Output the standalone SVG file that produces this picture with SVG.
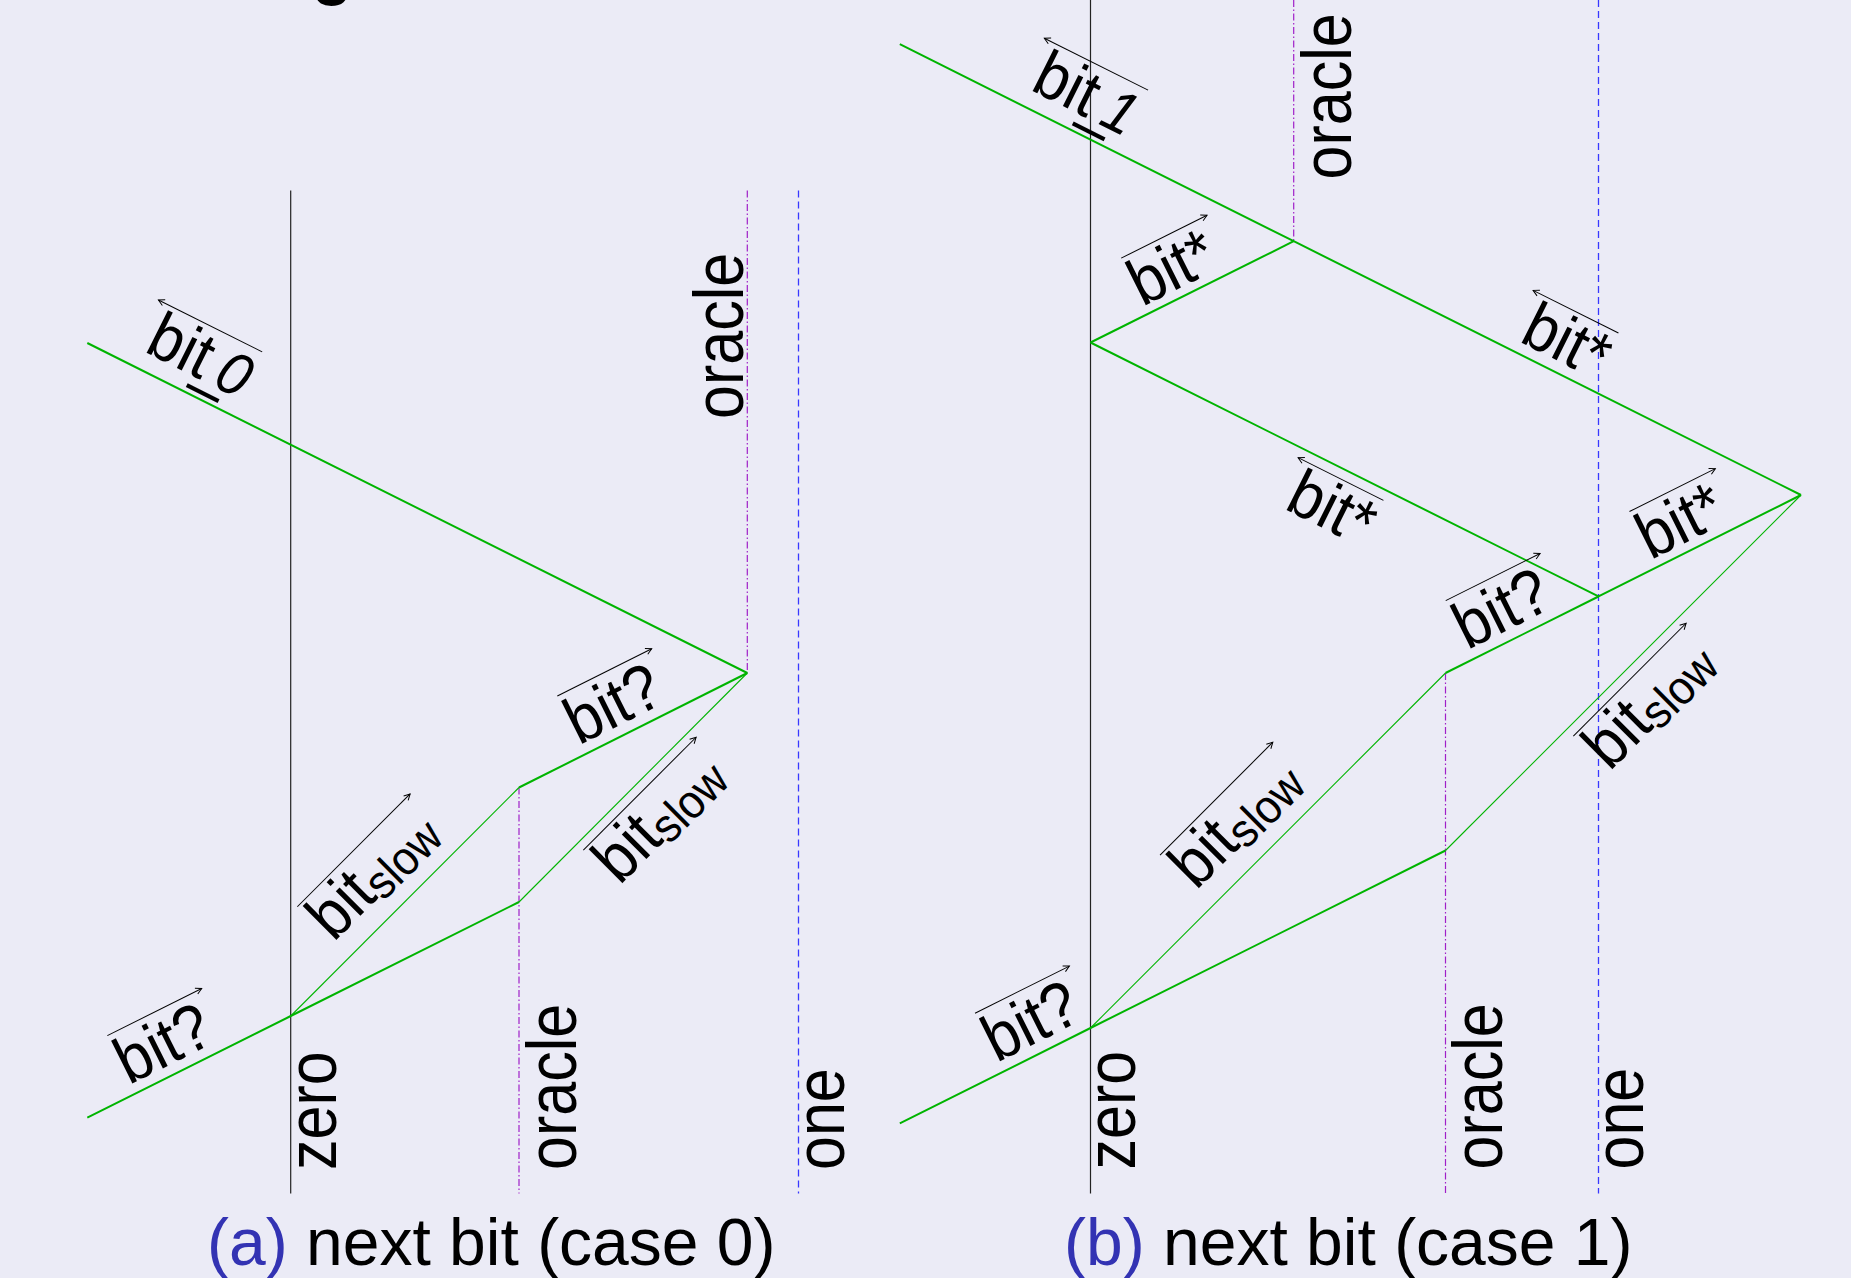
<svg xmlns="http://www.w3.org/2000/svg" width="1851" height="1278" viewBox="0 0 1851 1278">
<style>
.bg{fill:#ebebf6}
.g{stroke:#00b400;fill:none;stroke-width:2}
.gt{stroke:#00b400;fill:none;stroke-width:1.1}
.zero{stroke:#222;stroke-width:1.2}
.orc{stroke:#a020c8;stroke-width:1.2;stroke-dasharray:7 2.5 1.5 2.5}
.one{stroke:#3838ff;stroke-width:1.3;stroke-dasharray:7 4}
.lbl{font-family:"Liberation Sans",Arial,Helvetica,sans-serif;font-size:61px;fill:#000}
.sub{font-size:44px}
.it{font-style:italic}
.arr{stroke:#000;stroke-width:1;fill:none;marker-end:url(#ah)}
.vl{font-family:"Liberation Sans",Arial,Helvetica,sans-serif;font-size:61px;fill:#000}
.cap{font-family:"Liberation Sans",Arial,Helvetica,sans-serif;font-size:66px;fill:#000}
.capl{fill:#3333b3}
</style>
<defs>
<marker id="ah" markerUnits="userSpaceOnUse" viewBox="-8 -6 10 12" markerWidth="10" markerHeight="12" refX="0" refY="0" orient="auto" overflow="visible">
<path d="M-6,-3.2 L0,0 L-6,3.2" fill="none" stroke="#000" stroke-width="1"/>
</marker>
</defs>
<rect class="bg" x="0" y="0" width="1851" height="1278"/>
<text class="cap" x="312" y="-8" font-weight="bold">g</text>

<!-- Panel (a) -->
<g id="panel-a">
<g id="a-zero">
<line class="zero" x1="290.7" y1="190.6" x2="290.7" y2="1193.4"/>
<text class="vl" transform="translate(335.5,1170) scale(1.15,1) rotate(-90)">zero</text>
</g>
<g id="a-oracle-low">
<line class="orc" x1="519" y1="787.5" x2="519" y2="1193.4"/>
<text class="vl" transform="translate(575.5,1170) scale(1.15,1) rotate(-90)">oracle</text>
</g>
<g id="a-oracle-top">
<line class="orc" x1="747.3" y1="190.6" x2="747.3" y2="673"/>
<text class="vl" transform="translate(743,419) scale(1.15,1) rotate(-90)">oracle</text>
</g>
<g id="a-one">
<line class="one" x1="798.5" y1="190.6" x2="798.5" y2="1193.4"/>
<text class="vl" transform="translate(844,1170) scale(1.15,1) rotate(-90)">one</text>
</g>
<g id="a-connectors">
<polyline class="g" points="87.3,343 747.3,673"/>
<polyline class="g" points="87.3,1117.7 290.7,1016 519,902"/>
<polyline class="g" points="519,787.5 747.3,673"/>
<polyline class="gt" points="290.7,1016 519,787.5"/>
<polyline class="gt" points="519,902 747.3,673"/>
</g>
<g id="a-lbl-bit0" transform="translate(143,351) rotate(26.565)">
<text class="lbl" transform="scale(1,1.08)">bit<tspan dx="-9">_</tspan><tspan class="it" dx="-13" font-size="56">0</tspan></text>
<path class="arr" d="M107,-52.5 H-9"/>
</g>
<g id="a-lbl-bitq-low" transform="translate(128.8,1085.3) rotate(-26.565)">
<text class="lbl" transform="scale(1,1.08)">bit?</text>
<path class="arr" d="M3,-54 H108.5"/>
</g>
<g id="a-lbl-bitq-up" transform="translate(578.8,745.6) rotate(-26.565)">
<text class="lbl" transform="scale(1,1.08)">bit?</text>
<path class="arr" d="M3,-54 H108.5"/>
</g>
<g id="a-lbl-slow-left" transform="translate(333.4,942.8) rotate(-45)">
<text class="lbl" transform="scale(1,1.08)">bit<tspan class="sub" dy="6">slow</tspan></text>
<path class="arr" d="M0,-51 H159.5"/>
</g>
<g id="a-lbl-slow-right" transform="translate(619.4,886.1) rotate(-45)">
<text class="lbl" transform="scale(1,1.08)">bit<tspan class="sub" dy="6">slow</tspan></text>
<path class="arr" d="M0,-51 H159.5"/>
</g>
<text class="cap" x="207" y="1265"><tspan class="capl">(a)</tspan> next bit (case 0)</text>
</g>

<!-- Panel (b) -->
<g id="panel-b">
<g id="b-zero">
<line class="zero" x1="1090.5" y1="0" x2="1090.5" y2="1193.4"/>
<text class="vl" transform="translate(1135,1169.5) scale(1.15,1) rotate(-90)">zero</text>
</g>
<g id="b-oracle-top">
<line class="orc" x1="1293.7" y1="0" x2="1293.7" y2="241.2"/>
<text class="vl" transform="translate(1351,179.5) scale(1.15,1) rotate(-90)">oracle</text>
</g>
<g id="b-oracle-low">
<line class="orc" x1="1445.5" y1="673" x2="1445.5" y2="1193.4"/>
<text class="vl" transform="translate(1502,1169.5) scale(1.15,1) rotate(-90)">oracle</text>
</g>
<g id="b-one">
<line class="one" x1="1598.5" y1="0" x2="1598.5" y2="1193.4"/>
<text class="vl" transform="translate(1643,1169.5) scale(1.15,1) rotate(-90)">one</text>
</g>
<g id="b-connectors">
<polyline class="g" points="899.8,44.2 1293.7,241.2 1801,495"/>
<polyline class="g" points="1090.5,342.5 1293.7,241.2"/>
<polyline class="g" points="1090.5,342.5 1598.5,596.5 1801,495"/>
<polyline class="g" points="1445.5,673 1598.5,596.5"/>
<polyline class="g" points="899.8,1123.4 1090.5,1028 1445.5,850.5"/>
<polyline class="gt" points="1090.5,1028 1445.5,673"/>
<polyline class="gt" points="1445.5,850.5 1801,495"/>
</g>
<g id="b-lbl-bit1" transform="translate(1028.9,89.2) rotate(26.565)">
<text class="lbl" transform="scale(1,1.08)">bit<tspan dx="-9">_</tspan><tspan class="it" dx="-13" font-size="56">1</tspan></text>
<path class="arr" d="M107,-52.5 H-9"/>
</g>
<g id="b-lbl-bitstar-ul" transform="translate(1142.2,306.9) rotate(-26.565)">
<text class="lbl" transform="scale(1,1.08)">bit*</text>
<path class="arr" d="M3,-53 H99"/>
</g>
<g id="b-lbl-bitstar-ur" transform="translate(1517.9,340.9) rotate(26.565)">
<text class="lbl" transform="scale(1,1.08)">bit*</text>
<path class="arr" d="M86.4,-52 H-9"/>
</g>
<g id="b-lbl-bitstar-mid" transform="translate(1282.9,508.2) rotate(26.565)">
<text class="lbl" transform="scale(1,1.08)">bit*</text>
<path class="arr" d="M86.4,-52 H-9"/>
</g>
<g id="b-lbl-bitq" transform="translate(1467.2,650.3) rotate(-26.565)">
<text class="lbl" transform="scale(1,1.08)">bit?</text>
<path class="arr" d="M3,-54 H108.5"/>
</g>
<g id="b-lbl-bitstar-lr" transform="translate(1650.5,560.3) rotate(-26.565)">
<text class="lbl" transform="scale(1,1.08)">bit*</text>
<path class="arr" d="M3,-53 H99"/>
</g>
<g id="b-lbl-bitq-low" transform="translate(996.5,1062.9) rotate(-26.565)">
<text class="lbl" transform="scale(1,1.08)">bit?</text>
<path class="arr" d="M3,-54 H108.5"/>
</g>
<g id="b-lbl-slow-left" transform="translate(1196.1,891.1) rotate(-45)">
<text class="lbl" transform="scale(1,1.08)">bit<tspan class="sub" dy="6">slow</tspan></text>
<path class="arr" d="M0,-51 H159.5"/>
</g>
<g id="b-lbl-slow-right" transform="translate(1609.4,772.1) rotate(-45)">
<text class="lbl" transform="scale(1,1.08)">bit<tspan class="sub" dy="6">slow</tspan></text>
<path class="arr" d="M0,-51 H159.5"/>
</g>
<text class="cap" x="1064" y="1265"><tspan class="capl">(b)</tspan> next bit (case 1)</text>
</g>
</svg>
